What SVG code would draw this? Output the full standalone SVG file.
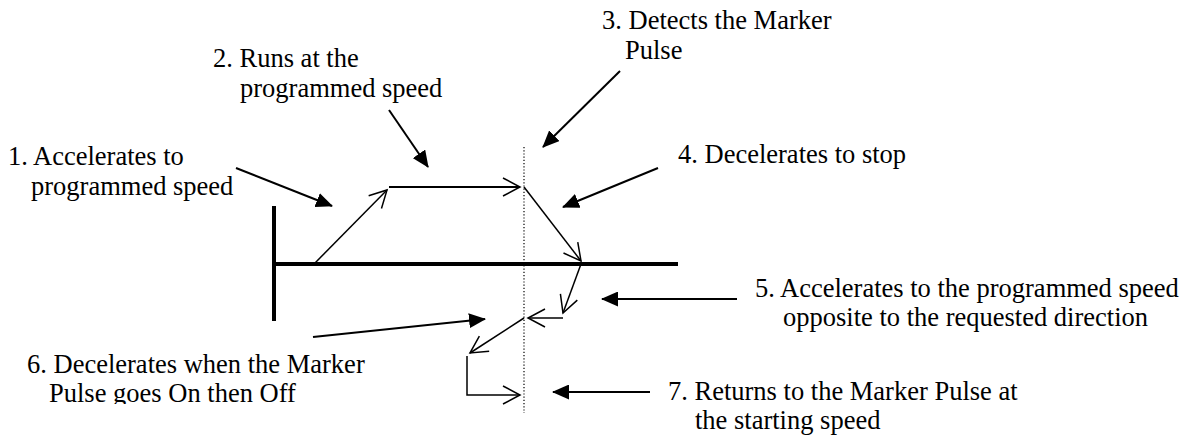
<svg xmlns="http://www.w3.org/2000/svg" width="1193" height="435" viewBox="0 0 1193 435">
<style>
  text { font-family: "Liberation Serif", "Times New Roman", serif; font-size: 26.5px; fill: #000; }
  .axis { stroke: #000; stroke-width: 4; fill: none; }
  .dot { stroke: #000; stroke-width: 1.2; stroke-dasharray: 1.2 2; fill: none; }
  .path { stroke: #000; stroke-width: 1.5; fill: none; marker-end: url(#open); }
  .call { stroke: #000; stroke-width: 2; fill: none; marker-end: url(#solid); }
</style>
<defs>
  <marker id="open" markerUnits="userSpaceOnUse" viewBox="0 0 18 20" markerWidth="18" markerHeight="20" refX="17" refY="10" orient="auto" overflow="visible">
    <path d="M0,1 L17,10 L0,19" fill="none" stroke="#000" stroke-width="1.5"/>
  </marker>
  <marker id="solid" markerUnits="userSpaceOnUse" viewBox="0 0 17 15" markerWidth="17" markerHeight="15" refX="16" refY="7.5" orient="auto">
    <path d="M0,0 L17,7.5 L0,15 z" fill="#000"/>
  </marker>
  <clipPath id="clip6"><rect x="0" y="340" width="320" height="64"/></clipPath>
</defs>

<g id="axes">
  <line class="axis" x1="274" y1="206" x2="274" y2="321"/>
  <line class="axis" x1="272" y1="264" x2="678" y2="264"/>
  <line class="dot" x1="524" y1="147" x2="524" y2="413"/>
</g>

<g id="connectors">
  <line class="path" x1="314" y1="264" x2="387" y2="190"/>
  <line class="path" x1="389" y1="187" x2="520" y2="187" style="stroke-width:2"/>
  <line class="path" x1="524" y1="187" x2="581" y2="261"/>
  <line class="path" x1="581" y1="264" x2="563" y2="313"/>
  <line class="path" x1="563" y1="318" x2="528" y2="318"/>
  <line class="path" x1="524" y1="318" x2="470" y2="353"/>
  <polyline class="path" points="467,356 467,395 520,395"/>

  <line class="call" x1="236" y1="168" x2="332" y2="206"/>
  <line class="call" x1="389" y1="110" x2="428" y2="167"/>
  <line class="call" x1="620" y1="71" x2="543" y2="147"/>
  <line class="call" x1="658" y1="168" x2="563" y2="207"/>
  <line class="call" x1="737" y1="299" x2="602" y2="299"/>
  <line class="call" x1="313" y1="337" x2="485" y2="319"/>
  <line class="call" x1="650" y1="392" x2="553" y2="392"/>
</g>

<g id="label1">
  <text x="8" y="165">1. Accelerates to</text>
  <text x="31" y="195">programmed speed</text>
</g>
<g id="label2">
  <text x="213" y="67">2. Runs at the</text>
  <text x="240" y="97">programmed speed</text>
</g>
<g id="label3">
  <text x="602" y="29">3. Detects the Marker</text>
  <text x="625" y="59">Pulse</text>
</g>
<g id="label4">
  <text x="678" y="163">4. Decelerates to stop</text>
</g>
<g id="label5">
  <text x="755" y="297">5. Accelerates to the programmed speed</text>
  <text x="783" y="326">opposite to the requested direction</text>
</g>
<g id="label6">
  <text x="27" y="373">6. Decelerates when the Marker</text>
  <text x="49" y="402" clip-path="url(#clip6)">Pulse goes On then Off</text>
</g>
<g id="label7">
  <text x="668" y="400">7. Returns to the Marker Pulse at</text>
  <text x="695" y="429">the starting speed</text>
</g>
</svg>
